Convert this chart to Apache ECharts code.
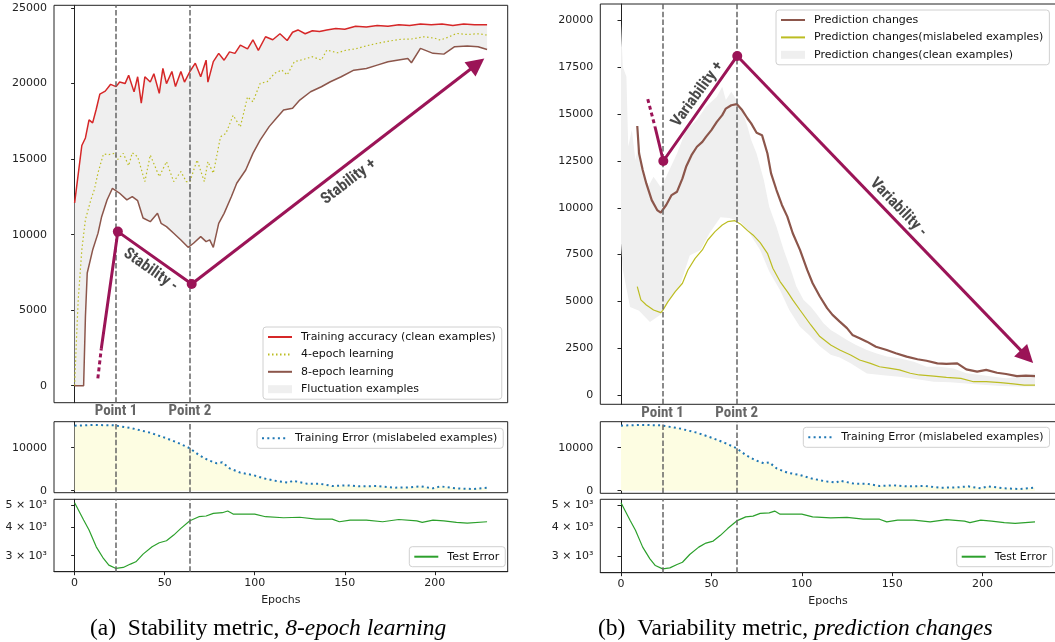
<!DOCTYPE html>
<html><head><meta charset="utf-8">
<script src="https://cdn.jsdelivr.net/npm/echarts@6/dist/echarts.min.js"></script>
<style>html,body{margin:0;padding:0;background:#fff}#c{width:1055px;height:642px}</style>
</head><body><div id="c"></div><script>
// ---------------- data ----------------
const xTicks = [0, 50, 100, 150, 200];
const leftYTicks = [0, 5000, 10000, 15000, 20000, 25000];
const rightYTicks = [0, 2500, 5000, 7500, 10000, 12500, 15000, 17500, 20000];
const trainErrTicks = [0, 10000];
const testErrTicks = [3000, 4000, 5000];
const pointNames = ['Point 1', 'Point 2'];
const pointEpochs = [23, 64];

// (a) training accuracy on clean examples
const accEpochs = [0,4,6,8,10,12,14,17,20,23,25,28,30,33,35,37,39,42,44,47,49,51,54,56,59,61,64,67,70,73,74,77,80,83,86,89,92,96,99,102,106,110,114,118,121,124,128,132,136,140,145,150,156,162,168,174,180,186,192,198,204,210,216,222,229];
const accValues = [12100,15900,16400,17600,17400,18300,19300,19500,19950,19800,20100,20000,20550,19450,20450,18700,20450,20100,20650,19350,21000,20000,20800,19800,20800,20100,20800,21350,20450,21550,20100,21450,22000,21550,22100,22000,22550,22300,22900,22200,23100,22900,23300,22850,23400,23550,23300,23500,23450,23550,23650,23600,23800,23750,23850,23800,23900,23850,23950,23900,23950,23850,23950,23900,23900];
// 4-epoch learning
const ep4Epochs = [0,1,2,4,6,9,11,13,16,19,22,24,27,30,32,35,39,42,47,51,55,59,62,64,68,72,74,77,81,84,88,92,96,99,103,107,111,115,118,122,127,132,137,140,146,151,156,162,168,174,181,187,194,200,203,208,212,218,224,229];
const ep4Values = [0,3000,5700,9000,11000,12300,13000,14100,15340,15300,15380,14980,15380,14560,15420,15160,13510,15270,13840,14830,13510,14170,13510,13510,14940,13510,14830,14060,16480,16700,17900,17130,19120,18800,20010,20130,20680,20900,20570,21450,21600,21780,21560,22220,22040,22220,22300,22500,22660,22800,22930,22950,23100,23000,22880,23100,23320,23250,23300,23210];
// 8-epoch learning
const ep8Epochs = [0,5,6,7,10,13,15,18,21,22,25,29,32,35,38,42,46,48,51,55,59,63,66,70,73,75,77,80,83,87,90,95,99,103,108,112,116,121,125,131,137,142,148,155,162,168,174,179,185,187,192,199,205,211,218,224,229];
const ep8Values = [0,0,4570,7460,8980,10100,11190,12290,13070,13110,12740,12300,12520,12250,11100,10860,11410,10750,10530,10090,9650,9160,9430,9870,9540,9650,9160,10750,11410,12510,13400,14280,15380,16260,17150,17700,18250,18360,18910,19460,19790,20120,20450,20890,21000,21220,21440,21550,21660,21380,22330,22000,21950,22440,22480,22440,22260];

// (b) prediction changes
const pcEpochs = [9,10,12,14,17,20,22,25,28,31,34,36,39,42,45,47,50,53,56,58,61,64,67,70,72,75,78,81,83,86,89,92,95,99,103,106,110,114,117,121,125,128,132,136,141,147,152,158,164,169,175,180,186,191,197,202,208,213,219,224,229];
const pcValues = [14370,12900,12020,11300,10410,9880,9740,10150,10680,10860,11570,12190,12810,13260,13520,13790,14150,14590,14950,15300,15480,15540,15220,14770,14510,14010,13880,12900,11840,10950,10150,9530,8640,7750,6680,5970,5260,4640,4280,3920,3570,3210,3030,2850,2580,2400,2230,2050,1910,1830,1690,1660,1690,1370,1250,1340,1190,1120,1010,1030,1010];
const pmEpochs = [9,11,14,18,22,23,26,30,34,37,41,45,48,52,56,59,63,66,70,73,77,81,84,88,92,95,99,105,110,116,121,127,132,138,143,149,154,160,165,173,180,188,195,202,210,217,223,229];
const pmValues = [5790,5080,4810,4540,4400,4510,4990,5520,5970,6680,7300,7750,8280,8730,9080,9260,9310,9140,8780,8550,8140,7570,6770,6060,5520,5080,4540,3740,3120,2670,2400,2140,1870,1690,1510,1420,1340,1160,1070,1010,940,890,710,710,660,590,530,530];
const cleanUpperEpochs = [0,1,3,4,6,8,10,12,15,18,22,25,31,36,42,47,53,56,58,61,64,67,70,72,75,79,82,86,90,94,97,101,105,108,112,116,119,125,130,136,141,147,154,162,169,176,184,191,199,206,213,221,229];
const cleanUpperValues = [19850,17540,17000,13270,14150,12550,13440,12020,11130,11660,11100,11660,12900,14150,14690,15400,15930,16470,15760,16200,15760,15220,14330,13620,12900,11480,10060,8990,7750,6680,5790,5080,4720,4360,3830,3470,3300,2940,2670,2400,2230,2050,1960,1780,1510,1510,1420,1160,1070,980,890,980,1160];
const cleanLowerEpochs = [0,1,5,10,16,22,27,33,38,44,49,55,60,66,71,77,82,88,93,99,104,110,116,121,127,136,145,154,163,173,182,191,200,210,220,229];
const cleanLowerValues = [8100,6700,4700,4500,3900,4300,5100,5950,7450,7750,8650,9500,9450,9250,8650,7750,6600,5600,4550,3650,3200,2600,2150,2000,1700,1150,1050,980,850,710,680,620,550,480,450,450];

// shared lower panels
const trainErrEpochs = [0,10,22,32,42,51,58,64,69,74,79,82,86,92,99,105,112,119,121,129,136,143,151,158,168,177,186,192,199,203,212,221,229];
const trainErrValues = [15120,15300,15200,14510,13490,12190,11020,9860,8300,7140,6370,6600,5210,4190,3650,2880,2260,1860,2330,1630,1630,1090,1240,1010,1090,700,780,1010,550,1010,550,390,700];
const testErrEpochs = [0,5,8,12,16,19,23,27,31,34,38,43,47,51,55,59,64,69,73,77,82,85,88,95,100,106,116,125,134,143,147,153,162,171,180,190,193,199,205,212,218,229];
const testErrValues = [5118,4297,3886,3281,2918,2728,2638,2665,2757,2821,3048,3281,3418,3487,3693,3951,4266,4444,4476,4599,4627,4707,4565,4565,4565,4444,4398,4420,4340,4340,4224,4297,4297,4224,4320,4260,4195,4297,4260,4195,4165,4224];

// annotation paths (data coordinates)
const stabDotted = [[12.9, 490], [14.8, 2450]];
const stabSolid = [[14.8, 2450], [24, 10200], [65, 6735]];
const stabArrow = [[65, 6735], [223.5, 21300]];
const stabMarkers = [[24, 10200], [65, 6735]];
const stabLabels = ['Stability -', 'Stability +'];
const stabLabelPos = [[42.2, 7660], [152.2, 13505]];
const stabLabelRot = [-35, 37.7];

const varDotted = [[14.8, 15810], [18.8, 14330]];
const varSolid = [[18.8, 14330], [23.4, 12500], [64.3, 18110]];
const varArrow = [[64.3, 18110], [224.5, 2050]];
const varMarkers = [[23.4, 12500], [64.3, 18110]];
const varLabels = ['Variability +', 'Variability -'];
const varLabelPos = [[42.3, 16070], [153.4, 10016]];
const varLabelRot = [54, -46];

// ---------------- chart ----------------
const PURPLE = '#9b1457';
const NARROW = '"Liberation Sans Narrow","Roboto Condensed",Roboto,sans-serif';
const BASEFONT = '"DejaVu Sans", sans-serif';
const SERIF = '"Liberation Serif", serif';
const zip = (xs, ys) => xs.map((x, i) => [x, ys[i]]);

function bandRenderer(upX, upY, loX, loY) {
  return function (params, api) {
    const pts = [];
    for (let i = 0; i < upX.length; i++) pts.push(api.coord([upX[i], upY[i]]));
    for (let i = loX.length - 1; i >= 0; i--) pts.push(api.coord([loX[i], loY[i]]));
    return { type: 'polygon', shape: { points: pts }, style: { fill: '#efefef' } };
  };
}

function pointLines(withLabel) {
  return {
    silent: true, symbol: ['none', 'none'], animation: false,
    lineStyle: { color: '#666', width: 1.5, type: [5.5, 2.4] },
    label: { show: withLabel, position: 'start', formatter: '{b}', distance: 1,
      fontFamily: NARROW, fontWeight: 'bold', fontSize: 15, color: '#666' },
    emphasis: { disabled: true },
    data: pointNames.map((n, i) => ({ name: n, xAxis: pointEpochs[i] }))
  };
}

const grids = [
  { left: 54, top: 5.3, width: 453.7, height: 397.4 },
  { left: 54, top: 421.7, width: 453.7, height: 71 },
  { left: 54, top: 499.3, width: 453.7, height: 72.4 },
  { left: 600.3, top: 4, width: 455.4, height: 400.3 },
  { left: 600.3, top: 421.7, width: 455.4, height: 71.6 },
  { left: 600.3, top: 499.3, width: 455.4, height: 73.4 }
].map(g => Object.assign({ show: true, borderColor: '#222', borderWidth: 1, backgroundColor: 'transparent', containLabel: false, outerBoundsMode: 'none' }, g));

const xAxes = grids.map((g, i) => {
  const bottom = (i === 2 || i === 5);
  return {
    type: 'value', gridIndex: i, min: -11.45, max: 240.45,
    axisLine: { show: bottom, lineStyle: { color: '#222' } },
    splitLine: { show: false },
    axisTick: { show: bottom, length: 3.5, customValues: xTicks, lineStyle: { color: '#222' } },
    axisLabel: { show: bottom, customValues: xTicks, margin: 6, fontSize: 11, color: '#222', fontFamily: BASEFONT },
    name: bottom ? 'Epochs' : '', nameLocation: 'middle', nameGap: 23,
    nameTextStyle: { fontSize: 11, color: '#222', fontFamily: BASEFONT }
  };
});

function yAxis(i, min, max, ticks, fmt, type) {
  return {
    type: type || 'value', gridIndex: i, min: min, max: max,
    axisLine: { show: true, lineStyle: { color: '#222' } },
    splitLine: { show: false }, minorTick: { show: false },
    axisTick: { show: true, length: 3.5, customValues: ticks, lineStyle: { color: '#222' } },
    axisLabel: { show: true, customValues: ticks, margin: 7, fontSize: 11, color: '#222', fontFamily: BASEFONT,
      formatter: fmt || (v => String(v)) }
  };
}
const logFmt = v => Math.round(v / 1000) + ' \u00d7 10\u00b3';
const yAxes = [
  yAxis(0, -1125, 25182, leftYTicks),
  yAxis(1, -465, 16050, trainErrTicks),
  yAxis(2, 2553, 5297, testErrTicks, logFmt, 'log'),
  yAxis(3, -497, 20887, rightYTicks),
  yAxis(4, -605, 16047, trainErrTicks),
  yAxis(5, 2540, 5297, testErrTicks, logFmt, 'log')
];

const series = [];
function line(name, idx, xs, ys, style, extra) {
  series.push(Object.assign({
    type: 'line', name: name, xAxisIndex: idx, yAxisIndex: idx, data: zip(xs, ys),
    symbol: 'none', silent: true, animation: false, lineStyle: style,
    itemStyle: { color: style.color }, z: 3
  }, extra || {}));
}
function annotations(idx, dotted, solid, arrow, markers, labels, labelPos, labelRot) {
  series.push({ type: 'line', name: 'ann-dotted-' + idx, xAxisIndex: idx, yAxisIndex: idx, data: dotted,
    symbol: 'none', silent: true, animation: false, z: 6,
    lineStyle: { color: PURPLE, width: 3, type: [4, 3] } });
  series.push({ type: 'line', name: 'ann-solid-' + idx, xAxisIndex: idx, yAxisIndex: idx, data: solid,
    symbol: 'none', silent: true, animation: false, z: 6,
    lineStyle: { color: PURPLE, width: 3 }, itemStyle: { color: PURPLE },
    markLine: { silent: true, animation: false, symbol: ['none', 'triangle'], symbolSize: 18,
      lineStyle: { color: PURPLE, width: 3, type: 'solid' }, itemStyle: { color: PURPLE },
      label: { show: false }, emphasis: { disabled: true }, z: 6,
      data: [[{ coord: arrow[0], symbol: 'none' }, { coord: arrow[1], symbol: 'triangle', symbolSize: 18, itemStyle: { color: PURPLE } }]] } });
  series.push({ type: 'scatter', name: 'ann-markers-' + idx, xAxisIndex: idx, yAxisIndex: idx, data: markers,
    symbol: 'circle', symbolSize: 10, itemStyle: { color: PURPLE, opacity: 1 }, silent: true, animation: false, z: 7 });
  series.push({ type: 'scatter', name: 'ann-text-' + idx, xAxisIndex: idx, yAxisIndex: idx,
    symbolSize: 0, silent: true, animation: false, z: 8,
    data: labels.map((t, i) => ({ value: labelPos[i],
      label: { show: true, position: 'inside', formatter: t, rotate: labelRot[i],
        fontFamily: NARROW, fontWeight: 'bold', fontSize: 16, color: '#1a1a1a' } })) });
}

// ----- (a) -----
series.push({ type: 'custom', name: 'Fluctuation examples', xAxisIndex: 0, yAxisIndex: 0, data: [[0, 0]],
  encode: { x: 0, y: 1 }, renderItem: bandRenderer(accEpochs, accValues, ep8Epochs, ep8Values),
  itemStyle: { color: '#efefef' }, silent: true, animation: false, z: 1 });
line('Training accuracy (clean examples)', 0, accEpochs, accValues, { color: '#d62728', width: 1.5 },
  { markLine: pointLines(true) });
line('4-epoch learning', 0, ep4Epochs, ep4Values, { color: '#bcbd22', width: 1.2, type: [1.5, 2.5] });
line('8-epoch learning', 0, ep8Epochs, ep8Values, { color: '#8c564b', width: 1.5 });
annotations(0, stabDotted, stabSolid, stabArrow, stabMarkers, stabLabels, stabLabelPos, stabLabelRot);

line('Training Error (mislabeled examples)', 1, trainErrEpochs, trainErrValues,
  { color: '#1f77b4', width: 2, type: [2, 3.3] },
  { areaStyle: { color: '#fdfde2', opacity: 1 }, markLine: pointLines(false) });
line('Test Error', 2, testErrEpochs, testErrValues, { color: '#2ca02c', width: 1.2 },
  { markLine: pointLines(false) });

// ----- (b) -----
series.push({ type: 'custom', name: 'Prediction changes(clean examples)', xAxisIndex: 3, yAxisIndex: 3, data: [[0, 0]],
  encode: { x: 0, y: 1 }, renderItem: bandRenderer(cleanUpperEpochs, cleanUpperValues, cleanLowerEpochs, cleanLowerValues),
  itemStyle: { color: '#efefef' }, silent: true, animation: false, z: 1 });
line('Prediction changes', 3, pcEpochs, pcValues, { color: '#8c564b', width: 2.2 },
  { markLine: pointLines(true) });
line('Prediction changes(mislabeled examples)', 3, pmEpochs, pmValues, { color: '#bcbd22', width: 1.2 });
annotations(3, varDotted, varSolid, varArrow, varMarkers, varLabels, varLabelPos, varLabelRot);

line('Training Error (mislabeled examples)', 4, trainErrEpochs, trainErrValues,
  { color: '#1f77b4', width: 2, type: [2, 3.3] },
  { areaStyle: { color: '#fdfde2', opacity: 1 }, markLine: pointLines(false) });
line('Test Error', 5, testErrEpochs, testErrValues, { color: '#2ca02c', width: 1.2 },
  { markLine: pointLines(false) });

function legend(left, top, items) {
  return {
    left: left, top: top, orient: 'vertical', selectedMode: false,
    itemWidth: 24, itemHeight: 8, itemGap: 3.4, padding: [3, 6, 3, 4],
    borderColor: '#d0d0d0', borderWidth: 1, borderRadius: 3, backgroundColor: 'rgba(255,255,255,0.85)',
    itemStyle: { opacity: 0 },
    textStyle: { fontSize: 11, lineHeight: 14, color: '#111', fontFamily: BASEFONT, padding: [0, 0, 0, 4] },
    data: items
  };
}
const patch = n => ({ name: n, icon: 'rect', itemStyle: { opacity: 1, color: '#efefef', borderWidth: 0 } });
const captionRich = {
  a: { fontFamily: SERIF, fontSize: 23.5, fontWeight: 'normal', color: '#000' },
  b: { fontFamily: SERIF, fontSize: 23.5, fontWeight: 'normal', fontStyle: 'italic', color: '#000' }
};

const option = {
  animation: false,
  backgroundColor: '#fff',
  textStyle: { fontFamily: BASEFONT },
  grid: grids, xAxis: xAxes, yAxis: yAxes, series: series,
  legend: [
    legend(263, 327, ['Training accuracy (clean examples)', '4-epoch learning', '8-epoch learning', patch('Fluctuation examples')]),
    legend(257, 428.3, ['Training Error (mislabeled examples)']),
    legend(409.3, 546.7, ['Test Error']),
    legend(776, 10, ['Prediction changes', 'Prediction changes(mislabeled examples)', patch('Prediction changes(clean examples)')]),
    legend(803.3, 427.3, ['Training Error (mislabeled examples)']),
    legend(956.7, 546.7, ['Test Error'])
  ],
  title: [
    { left: 90, top: 617, padding: 0, text: '{a|(a)  Stability metric, }{b|8-epoch learning}',
      textStyle: { fontWeight: 'normal', fontFamily: SERIF, fontSize: 23.5, rich: captionRich } },
    { left: 598, top: 617, padding: 0, text: '{a|(b)  Variability metric, }{b|prediction changes}',
      textStyle: { fontWeight: 'normal', fontFamily: SERIF, fontSize: 23.5, rich: captionRich } }
  ]
};
const chart = echarts.init(document.getElementById('c'), null, { renderer: 'canvas' });
chart.setOption(option);
</script></body></html>
